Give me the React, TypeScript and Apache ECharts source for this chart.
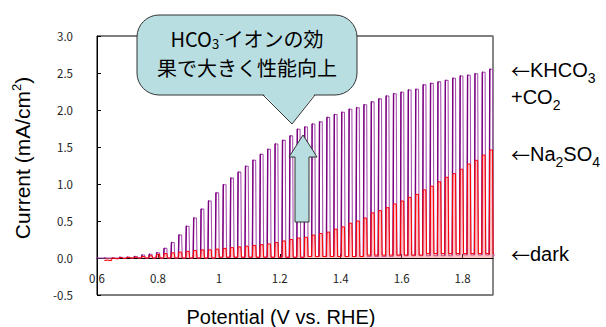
import React, { useEffect, useRef } from 'react';
import * as echarts from 'echarts';

// Axes
const X_MIN = 0.6;
const X_MAX = 1.9;
const X_STEP = 0.2;
const Y_MIN = -0.5;
const Y_MAX = 3.0;
const Y_STEP = 0.5;

// Chopped-light measurement: each cycle starts at CHOP_START + k * CHOP_PERIOD (V)
const CHOP_START = 0.6;
const CHOP_PERIOD = 0.0243;

// KHCO3 + CO2 : light-on peak current and dark current per cycle (mA/cm2)
const KHCO3_PEAKS = [
  0.0, 0.0, 0.0, 0.01, 0.01, 0.02, 0.04, 0.05, 0.07, 0.13,
  0.21, 0.31, 0.43, 0.54, 0.66, 0.77, 0.88, 0.99, 1.08, 1.16,
  1.24, 1.32, 1.4, 1.47, 1.54, 1.59, 1.65, 1.74, 1.77, 1.81,
  1.84, 1.9, 1.94, 1.97, 2.01, 2.03, 2.07, 2.11, 2.15, 2.19,
  2.22, 2.24, 2.27, 2.28, 2.34, 2.36, 2.38, 2.4, 2.43, 2.46,
  2.47, 2.49, 2.51, 2.55,
];
const KHCO3_DARK = [
  0, 0, 0, 0, 0, 0, 0, 0, 0, 0, 0, 0, 0, 0, 0, 0,
  0.01, 0.01, 0.01, 0.01, 0.01, 0.01, 0.01, 0.01, 0.01, 0.01, 0.01, 0.01,
  0.02, 0.02, 0.02, 0.02, 0.02, 0.02, 0.02, 0.02, 0.02, 0.02, 0.02, 0.02,
  0.03, 0.03, 0.03, 0.03, 0.03, 0.03, 0.03, 0.03,
  0.04, 0.04, 0.04, 0.04, 0.04, 0.04,
];

// Na2SO4 : light-on peak current and dark current per cycle (mA/cm2)
const NA2SO4_PEAKS: (number | null)[] = [
  null, -0.03, 0.0, 0.005, 0.01, 0.01, 0.02, 0.03, 0.05, 0.06,
  0.07, 0.08, 0.09, 0.1, 0.11, 0.11, 0.12, 0.13, 0.14, 0.15,
  0.16, 0.17, 0.18, 0.19, 0.21, 0.23, 0.25, 0.27, 0.28, 0.31,
  0.33, 0.35, 0.39, 0.42, 0.47, 0.5, 0.54, 0.61, 0.64, 0.68,
  0.73, 0.77, 0.82, 0.86, 0.92, 0.97, 1.03, 1.09, 1.14, 1.2,
  1.27, 1.32, 1.39, 1.46,
];
const NA2SO4_DARK: (number | null)[] = [
  null, -0.035, -0.01, -0.005,
  0, 0, 0, 0, 0, 0, 0, 0, 0, 0, 0, 0,
  0.01, 0.01, 0.01, 0.01, 0.01, 0.01, 0.01, 0.01, 0.01, 0.01, 0.01, 0.01,
  0.02, 0.02, 0.02, 0.02, 0.02, 0.02, 0.02, 0.02,
  0.04, 0.04, 0.04, 0.04, 0.04, 0.04, 0.04, 0.04,
  0.06, 0.06, 0.06, 0.06, 0.06, 0.06, 0.06, 0.06, 0.06, 0.06,
];

// Build the chopped waveform (light on: rise to peak, light off: back to dark level)
function chopped(peaks: (number | null)[], darks: (number | null)[]) {
  const pts: number[][] = [];
  peaks.forEach((p, k) => {
    const d = darks[k];
    if (p == null || d == null) return;
    const s = CHOP_START + k * CHOP_PERIOD;
    pts.push([s, d], [s + 0.0015, p], [s + 0.0105, p], [s + 0.0125, d], [s + CHOP_PERIOD - 0.0005, d]);
  });
  return pts;
}
function risingEdges(peaks: (number | null)[], darks: (number | null)[]) {
  const pts: (number[] | null)[] = [];
  peaks.forEach((p, k) => {
    const d = darks[k];
    if (p == null || d == null) return;
    const s = CHOP_START + k * CHOP_PERIOD;
    pts.push([s, d], [s + 0.0015, p], [s + 0.004, p], null);
  });
  return pts;
}

const TEXT_FONT = '"Liberation Sans", Arial, sans-serif';
const JP_FONT = '"Noto Sans CJK JP", sans-serif';
const TEAL = '#b8dee1';

const GRID_TOP = 36;
const GRID_BOTTOM = 32;
const CHART_H = 327;

function rightLabel(text: string, y: number) {
  return {
    type: 'text',
    x: 511,
    y,
    z: 100,
    style: {
      text,
      fill: '#000',
      align: 'left',
      verticalAlign: 'middle',
      textAlign: 'left',
      textVerticalAlign: 'middle',
      rich: {
        a: { fontSize: 19, fontFamily: JP_FONT, lineHeight: 30, fill: '#000', verticalAlign: 'middle' },
        n: { fontSize: 20, fontFamily: TEXT_FONT, lineHeight: 30, fill: '#000', verticalAlign: 'middle' },
        sub: { fontSize: 14, fontFamily: TEXT_FONT, lineHeight: 14, fill: '#000', verticalAlign: 'bottom' },
      },
    },
  };
}

export default function App() {
  const ref = useRef<HTMLDivElement>(null);
  useEffect(() => {
    const chart = echarts.init(ref.current!, null, { renderer: 'svg' });
    // distance from the plot bottom (y = Y_MIN) up to y = 0, where the x axis sits
    const plotH = CHART_H - GRID_TOP - GRID_BOTTOM;
    const zeroOffset = -Math.round(((0 - Y_MIN) / (Y_MAX - Y_MIN)) * plotH);
    const option = {
      animation: false,
      backgroundColor: '#fff',
      grid: {
        left: 97,
        right: 113,
        top: GRID_TOP,
        bottom: GRID_BOTTOM,
        show: true,
        borderColor: '#000',
        borderWidth: 1,
        backgroundColor: 'transparent',
      },
      xAxis: {
        type: 'value',
        min: X_MIN,
        max: X_MAX,
        interval: X_STEP,
        position: 'bottom',
        offset: zeroOffset,
        axisLine: { onZero: false, lineStyle: { color: '#000', width: 1 } },
        axisTick: { show: true, inside: true, length: 4, lineStyle: { color: '#000' } },
        axisLabel: {
          margin: 14,
          fontSize: 11.5,
          color: '#222',
          fontFamily: JP_FONT,
          showMaxLabel: false,
          formatter: (v: number) => (v > 1.85 ? '' : String(Math.round(v * 10) / 10)),
        },
        splitLine: { show: false },
      },
      yAxis: [
        {
          type: 'value',
          min: Y_MIN,
          max: Y_MAX,
          interval: Y_STEP,
          axisLine: { show: true, onZero: false, lineStyle: { color: '#000', width: 1 } },
          axisTick: { show: true, inside: true, length: 4, lineStyle: { color: '#000' } },
          axisLabel: {
            margin: 24,
            fontSize: 11.5,
            color: '#222',
            fontFamily: JP_FONT,
            formatter: (v: number) => v.toFixed(1),
          },
          splitLine: { show: false },
        },
        {
          type: 'value',
          position: 'right',
          min: Y_MIN,
          max: Y_MAX,
          interval: Y_STEP,
          axisLine: { show: true, onZero: false, lineStyle: { color: '#8a8a8a', width: 1.5 } },
          axisTick: { show: false },
          axisLabel: { show: false },
          splitLine: { show: false },
        },
      ],
      series: [
        {
          name: 'KHCO3+CO2',
          type: 'line',
          data: chopped(KHCO3_PEAKS, KHCO3_DARK),
          showSymbol: false,
          lineStyle: { color: '#a955b0', width: 1.1 },
          z: 2,
        },
        {
          name: 'KHCO3+CO2 edge',
          type: 'line',
          data: risingEdges(KHCO3_PEAKS, KHCO3_DARK),
          connectNulls: false,
          showSymbol: false,
          lineStyle: { color: '#7a0080', width: 1.4 },
          z: 3,
        },
        {
          name: 'Na2SO4',
          type: 'line',
          data: chopped(NA2SO4_PEAKS, NA2SO4_DARK),
          showSymbol: false,
          lineStyle: { color: '#ff0000', width: 1 },
          areaStyle: { color: '#ff6a6a', opacity: 0.4 },
          z: 4,
        },
      ],
      graphic: [
        {
          type: 'text',
          x: 22,
          y: 158,
          rotation: Math.PI / 2,
          z: 100,
          style: {
            text: '{n|Current (mA/cm}{sup|2}{n|)}',
            align: 'center',
            verticalAlign: 'middle',
            textAlign: 'center',
            textVerticalAlign: 'middle',
            rich: {
              n: { fontSize: 21, fontFamily: TEXT_FONT, lineHeight: 24, fill: '#000' },
              sup: { fontSize: 13, fontFamily: TEXT_FONT, lineHeight: 13, fill: '#000', verticalAlign: 'top' },
            },
          },
        },
        {
          type: 'text',
          x: 281,
          y: 317,
          z: 100,
          style: {
            text: 'Potential (V vs. RHE)',
            fontSize: 20,
            fontFamily: TEXT_FONT,
            fill: '#000',
            align: 'center',
            verticalAlign: 'middle',
            textAlign: 'center',
            textVerticalAlign: 'middle',
          },
        },
        rightLabel('{a|←}{n|KHCO}{sub|3}', 70),
        rightLabel('{n|+CO}{sub|2}', 97),
        rightLabel('{a|←}{n|Na}{sub|2}{n|SO}{sub|4}', 154),
        rightLabel('{a|←}{n|dark}', 254),
        // callout
        {
          type: 'rect',
          z: 100,
          shape: { x: 137, y: 15, width: 220, height: 80, r: 22 },
          style: { fill: TEAL, stroke: '#333', lineWidth: 1 },
        },
        {
          type: 'polygon',
          z: 101,
          shape: { points: [[263, 93.5], [292, 124], [315, 93.5]] },
          style: { fill: TEAL, stroke: null },
        },
        {
          type: 'polyline',
          z: 102,
          shape: { points: [[263, 95], [292, 124], [315, 95]] },
          style: { fill: null, stroke: '#333', lineWidth: 1 },
        },
        {
          type: 'text',
          x: 247,
          y: 38,
          z: 103,
          style: {
            text: '{n|HCO}{sub|3}{sup|-}{n|イオンの効}',
            align: 'center',
            verticalAlign: 'middle',
            textAlign: 'center',
            textVerticalAlign: 'middle',
            rich: {
              n: { fontSize: 20, fontFamily: JP_FONT, lineHeight: 24, fill: '#000' },
              sub: { fontSize: 13, fontFamily: JP_FONT, lineHeight: 13, fill: '#000', verticalAlign: 'bottom' },
              sup: { fontSize: 13, fontFamily: JP_FONT, lineHeight: 13, fill: '#000', verticalAlign: 'top' },
            },
          },
        },
        {
          type: 'text',
          x: 247,
          y: 67,
          z: 103,
          style: {
            text: '果で大きく性能向上',
            fontSize: 20,
            lineHeight: 22,
            fontFamily: JP_FONT,
            fill: '#000',
            align: 'center',
            verticalAlign: 'middle',
            textAlign: 'center',
            textVerticalAlign: 'middle',
          },
        },
        // up arrow
        {
          type: 'polygon',
          z: 100,
          shape: {
            points: [[303, 135], [317, 157], [309, 157], [309, 222], [295, 222], [295, 157], [289, 157]],
          },
          style: { fill: TEAL, stroke: '#333', lineWidth: 1 },
        },
      ],
    };
    chart.setOption(option as any);
    return () => chart.dispose();
  }, []);
  return <div ref={ref} style={{ position: 'absolute', left: 0, top: 0, width: 606, height: 327 }} />;
}
